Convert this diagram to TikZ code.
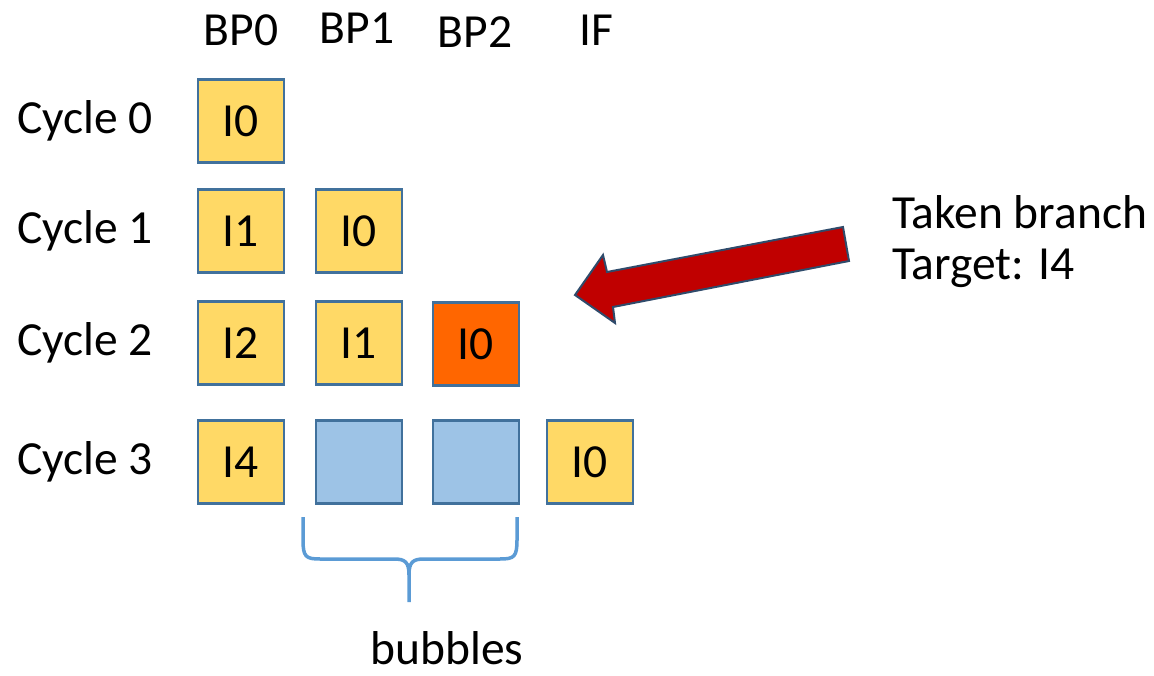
\documentclass[tikz,border=0pt]{standalone}
\usepackage{fontspec}
\setmainfont{Carlito}
\begin{document}
\begin{tikzpicture}[x=1pt,y=-1pt,
  lbl/.style={font=\fontsize{47.5}{56}\selectfont, inner sep=0pt, text=black},
  cell/.style={draw=boxblue, line width=2.4pt, minimum width=86pt, minimum height=83pt, inner sep=0pt, font=\fontsize{47.5}{56}\selectfont},
  ycell/.style={cell, fill=cellyellow},
  bcell/.style={cell, fill=cellblue},
  ocell/.style={cell, fill=cellorange}]
\definecolor{boxblue}{HTML}{41719C}
\definecolor{cellyellow}{HTML}{FFD966}
\definecolor{cellblue}{HTML}{9DC3E6}
\definecolor{cellorange}{HTML}{FF6600}
\definecolor{arrowred}{HTML}{C00000}
\definecolor{arrowedge}{HTML}{2F4B6B}
\definecolor{bracecol}{HTML}{5B9BD5}
\useasboundingbox (0,0) rectangle (1154,676);
% headers
\node[lbl] (h0) at (241,30) {BP0};
\node[lbl] (h1) at (357,28) {BP1};
\node[lbl] (h2) at (475,32) {BP2};
\node[lbl] (h3) at (596,30) {IF};
% row labels
\node[lbl] (r0) at (85,121) {Cycle 0};
\node[lbl] (r1) at (85,231) {Cycle 1};
\node[lbl] (r2) at (85,343) {Cycle 2};
\node[lbl] (r3) at (85,462) {Cycle 3};
% cells
\node[ycell] (c00) at (241,121) {I0};
\node[ycell] (c10) at (241,231) {I1};
\node[ycell] (c11) at (359,231) {I0};
\node[ycell] (c20) at (241,343) {I2};
\node[ycell] (c21) at (359,343) {I1};
\node[ocell] (c22) at (476,344) {I0};
\node[ycell] (c30) at (241,462) {I4};
\node[bcell] (c31) at (359,462) {};
\node[bcell] (c32) at (476,462) {};
\node[ycell] (c33) at (590,462) {I0};
% taken branch text
\node[lbl, anchor=west] (t1) at (892,212) {Taken branch};
\node[lbl, anchor=west] (t2) at (892,268) {Target: I4};
% block arrow
\draw[fill=arrowred, draw=arrowedge, line width=2pt, line join=miter]
  (843,227) -- (849,261) -- (613,307) -- (615,323) -- (575,295) -- (603,255) -- (607,272) -- cycle;
% brace
\draw[bracecol, line width=3.5pt, line cap=butt]
  (303,517) -- (303,540) .. controls (303,557) and (306,559) .. (320,559)
  -- (394,559) .. controls (405,559) and (409,562) .. (409,575) -- (409,602);
\draw[bracecol, line width=3.5pt]
  (517,517) -- (517,540) .. controls (517,557) and (514,559) .. (500,559)
  -- (424,559) .. controls (413,559) and (409,562) .. (409,575);
\node[lbl, anchor=base] (bub) at (447,664) {bubbles};
\end{tikzpicture}
\end{document}
